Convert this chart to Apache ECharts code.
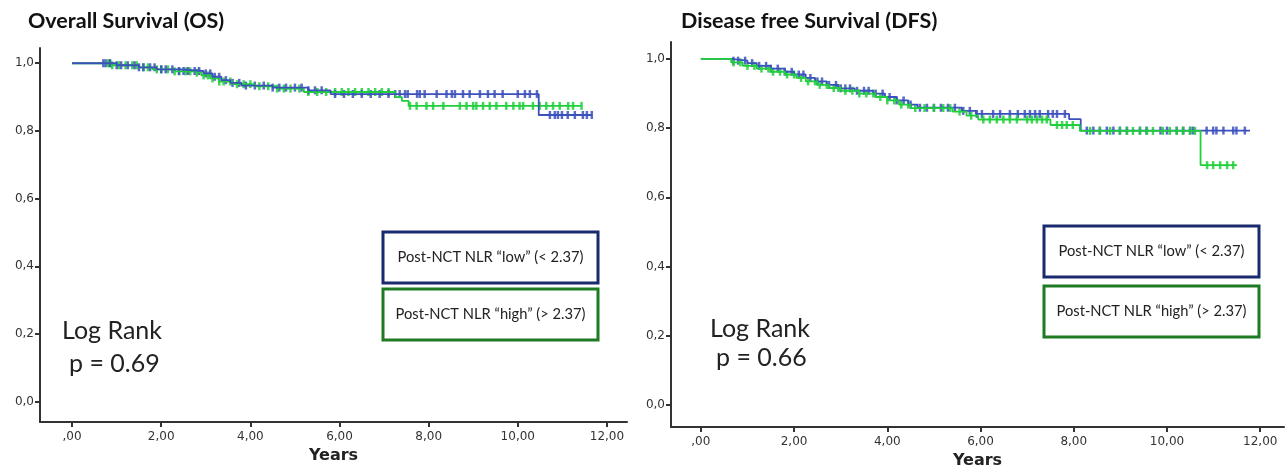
<!DOCTYPE html>
<html>
<head>
<meta charset="utf-8">
<script src="https://cdn.jsdelivr.net/npm/echarts@6/dist/echarts.min.js"></script>
<style>
  html, body { margin: 0; padding: 0; background: #fff; }
  #chart { width: 1288px; height: 465px; }
</style>
</head>
<body>
<div id="chart"></div>
<script>
// tick values + labels (SPSS style, comma decimal)
const xTicks = [0, 2, 4, 6, 8, 10, 12];
const xTickLabels = [',00', '2,00', '4,00', '6,00', '8,00', '10,00', '12,00'];
const yTicks = [0, 0.2, 0.4, 0.6, 0.8, 1.0];
const yTickLabels = ['0,0', '0,2', '0,4', '0,6', '0,8', '1,0'];

// Overall survival, step points (years, cumulative survival)
const osLowTime  = [0, 1.0, 1.5, 1.9, 2.4, 2.95, 3.15, 3.35, 3.55, 3.8, 4.5, 5.3, 5.8, 10.47, 11.66];
const osLowSurv  = [1.0, 0.994, 0.988, 0.982, 0.977, 0.97, 0.96, 0.95, 0.942, 0.934, 0.928, 0.92, 0.909, 0.847, 0.847];
const osHighTime = [0, 0.9, 1.5, 1.8, 2.3, 2.7, 2.9, 3.1, 3.3, 3.6, 4.1, 4.6, 5.2, 7.25, 7.4, 7.55, 11.43];
const osHighSurv = [1.0, 0.994, 0.988, 0.982, 0.976, 0.972, 0.964, 0.955, 0.946, 0.938, 0.932, 0.925, 0.915, 0.9, 0.889, 0.874, 0.874];

// censored times (OS)
const osLowCens = [0.7, 0.75, 0.85, 1.0, 1.1, 1.25, 1.4, 1.5, 1.6, 1.75, 1.85, 2.0, 2.1, 2.25, 2.4, 2.5, 2.6, 2.75, 2.85,
  3.0, 3.1, 3.2, 3.3, 3.45, 3.6, 3.75, 3.9, 4.1, 4.3, 4.5, 4.65, 4.8, 5.0, 5.15, 5.3, 5.45, 5.6, 5.9, 6.1, 6.3, 6.5,
  6.7, 6.9, 7.1, 7.25, 7.35, 7.47, 7.53, 7.74, 7.8, 7.91, 8.18, 8.4, 8.52, 8.59, 8.77, 8.92, 9.15, 9.33, 9.48, 9.66,
  10.0, 10.16, 10.27, 10.43, 10.72, 10.83, 10.9, 10.99, 11.12, 11.28, 11.46, 11.55, 11.66];
const osHighCens = [0.8, 0.85, 0.9, 1.05, 1.2, 1.35, 1.45, 1.6, 1.7, 1.9, 2.0, 2.15, 2.3, 2.4, 2.55, 2.65, 2.8, 2.95,
  3.05, 3.15, 3.3, 3.4, 3.55, 3.7, 3.85, 4.0, 4.2, 4.4, 4.6, 4.75, 4.9, 5.1, 5.3, 5.5, 5.7, 5.9, 6.05, 6.2, 6.35,
  6.5, 6.65, 6.8, 6.95, 7.1, 7.58, 7.73, 7.95, 8.1, 8.33, 8.7, 8.85, 9.0, 9.07, 9.22, 9.37, 9.52, 9.74, 9.9, 10.04,
  10.12, 10.34, 10.49, 10.64, 10.79, 10.94, 11.13, 11.24, 11.43];

// Disease free survival, step points
const dfsLowTime  = [0, 0.65, 1.0, 1.2, 1.5, 1.8, 2.0, 2.25, 2.45, 2.7, 2.95, 3.3, 3.7, 3.95, 4.2, 4.45, 4.65, 5.6, 5.9, 7.9, 8.15, 11.78];
const dfsLowSurv  = [1, 0.995, 0.988, 0.98, 0.972, 0.963, 0.955, 0.945, 0.935, 0.925, 0.915, 0.908, 0.9, 0.89, 0.88, 0.868, 0.859, 0.85, 0.841, 0.826, 0.793, 0.793];
const dfsHighTime = [0, 0.65, 0.9, 1.2, 1.5, 1.8, 2.05, 2.25, 2.5, 2.75, 3.0, 3.4, 3.75, 4.0, 4.25, 4.5, 5.4, 5.7, 5.95, 7.5, 8.13, 10.72, 11.5];
const dfsHighSurv = [1, 0.99, 0.98, 0.972, 0.963, 0.955, 0.945, 0.935, 0.925, 0.916, 0.908, 0.9, 0.89, 0.88, 0.868, 0.858, 0.848, 0.836, 0.825, 0.809, 0.792, 0.693, 0.693];

const dfsLowCens = [0.7, 0.8, 0.95, 1.1, 1.25, 1.4, 1.5, 1.65, 1.8, 1.95, 2.1, 2.2, 2.35, 2.5, 2.6, 2.75, 2.9, 3.0, 3.1,
  3.2, 3.35, 3.5, 3.6, 3.75, 3.9, 4.05, 4.2, 4.35, 4.5, 4.7, 4.85, 5.0, 5.15, 5.3, 5.45, 5.63, 5.77, 5.92, 6.03, 6.27,
  6.42, 6.63, 6.8, 6.95, 7.06, 7.17, 7.27, 7.45, 7.55, 7.64, 7.81, 8.28, 8.42, 8.56, 8.71, 8.85, 8.99, 9.14, 9.42,
  9.56, 9.86, 10.0, 10.21, 10.35, 10.5, 10.56, 10.85, 10.99, 11.06, 11.21, 11.42, 11.49, 11.67];
const dfsHighCens = [0.7, 0.85, 1.0, 1.15, 1.3, 1.45, 1.55, 1.7, 1.85, 2.0, 2.15, 2.3, 2.45, 2.55, 2.7, 2.85, 2.95,
  3.1, 3.25, 3.4, 3.55, 3.7, 3.85, 4.0, 4.15, 4.3, 4.45, 4.6, 4.8, 5.0, 5.2, 5.35, 5.55, 5.8, 6.06, 6.2, 6.35, 6.49,
  6.63, 6.78, 7.0, 7.1, 7.21, 7.32, 7.42, 7.64, 7.75, 7.85, 7.98, 8.35, 8.56, 8.78, 8.99, 9.14, 9.27, 9.42, 9.57,
  9.7, 9.91, 10.06, 10.21, 10.34, 10.49, 10.6, 10.86, 10.99, 11.14, 11.29, 11.42];

const BLUE = '#3b50bd';
const GREEN = '#1fd03a';

function pairs(times, surv) {
  return times.map((t, i) => [t, surv[i]]);
}
// survival value of the step curve at a censor time
function censPoints(times, surv, cens) {
  return cens.map(c => {
    let s = surv[0];
    for (let i = 0; i < times.length; i++) if (times[i] <= c) s = surv[i];
    return [c, s];
  });
}

function stepSeries(idx, times, surv, color) {
  return {
    type: 'line', step: 'end', xAxisIndex: idx, yAxisIndex: idx,
    data: pairs(times, surv), showSymbol: false, silent: true,
    lineStyle: { color: color, width: 1.8 }
  };
}
function censSeries(idx, times, surv, cens, color) {
  return {
    type: 'scatter', xAxisIndex: idx, yAxisIndex: idx, silent: true,
    data: censPoints(times, surv, cens),
    symbol: 'rect', symbolSize: [2.5, 8],
    itemStyle: { color: color, opacity: 0.85 }
  };
}

function xAxis(idx, min, max, gap) {
  return {
    type: 'value', gridIndex: idx, min: min, max: max,
    axisLine: { show: true, onZero: false, lineStyle: { color: '#333', width: 2 } },
    axisTick: { show: true, customValues: xTicks, length: 5, lineStyle: { color: '#333', width: 2 } },
    axisLabel: {
      customValues: xTicks, formatter: v => xTickLabels[xTicks.indexOf(v)],
      color: '#333', fontSize: 12, fontFamily: 'DejaVu Sans', margin: 9
    },
    splitLine: { show: false },
    name: 'Years', nameLocation: 'middle', nameGap: gap,
    nameTextStyle: { color: '#222', fontSize: 16, fontWeight: 'bold', fontFamily: 'DejaVu Sans' }
  };
}
function yAxis(idx, min, max) {
  return {
    type: 'value', gridIndex: idx, min: min, max: max,
    axisLine: { show: true, onZero: false, lineStyle: { color: '#333', width: 2 } },
    axisTick: { show: true, customValues: yTicks, length: 5, lineStyle: { color: '#333', width: 2 } },
    axisLabel: {
      customValues: yTicks, formatter: v => yTickLabels[yTicks.indexOf(Math.round(v * 10) / 10)],
      color: '#333', fontSize: 12, fontFamily: 'DejaVu Sans', margin: 6
    },
    splitLine: { show: false }
  };
}

function legendBox(x, y, w, h, color, label) {
  return {
    type: 'group', children: [
      { type: 'rect', shape: { x: x, y: y, width: w, height: h },
        style: { fill: '#fff', stroke: color, lineWidth: 3 } },
      { type: 'text', style: { x: x + w / 2, y: y + h / 2, text: label, fill: '#222',
        fontSize: 14.7, fontFamily: 'Lato', align: 'center', verticalAlign: 'middle' } }
    ]
  };
}
function plainText(x, y, text, size) {
  return { type: 'text', style: { x: x, y: y, text: text, fill: '#222', fontSize: size,
    fontFamily: 'Lato', align: 'left', verticalAlign: 'middle' } };
}

const chart = echarts.init(document.getElementById('chart'), null, { renderer: 'canvas' });
chart.setOption({
  backgroundColor: '#fff',
  animation: false,
  title: [
    { text: 'Overall Survival (OS)', left: 23, top: 5,
      textStyle: { fontSize: 21.5, fontWeight: 'bold', fontFamily: 'Lato', color: '#111' } },
    { text: 'Disease free Survival (DFS)', left: 676, top: 5,
      textStyle: { fontSize: 21.5, fontWeight: 'bold', fontFamily: 'Lato', color: '#111' } }
  ],
  grid: [
    { left: 40, top: 48, width: 587, height: 374, outerBoundsMode: 'none' },
    { left: 671, top: 42, width: 613, height: 385, outerBoundsMode: 'none' }
  ],
  xAxis: [xAxis(0, -0.72, 12.45, 26), xAxis(1, -0.64, 12.51, 23)],
  yAxis: [yAxis(0, -0.06, 1.045), yAxis(1, -0.064, 1.049)],
  series: [
    stepSeries(0, osHighTime, osHighSurv, GREEN),
    stepSeries(0, osLowTime, osLowSurv, BLUE),
    censSeries(0, osHighTime, osHighSurv, osHighCens, GREEN),
    censSeries(0, osLowTime, osLowSurv, osLowCens, BLUE),
    stepSeries(1, dfsLowTime, dfsLowSurv, BLUE),
    stepSeries(1, dfsHighTime, dfsHighSurv, GREEN),
    censSeries(1, dfsLowTime, dfsLowSurv, dfsLowCens, BLUE),
    censSeries(1, dfsHighTime, dfsHighSurv, dfsHighCens, GREEN)
  ],
  graphic: [
    legendBox(383, 232, 215, 51, '#1b2a6e', 'Post-NCT NLR \u201clow\u201d (< 2.37)'),
    legendBox(383, 289, 215, 51, '#1f7a24', 'Post-NCT NLR \u201chigh\u201d (> 2.37)'),
    legendBox(1044, 226, 215, 51, '#1b2a6e', 'Post-NCT NLR \u201clow\u201d (< 2.37)'),
    legendBox(1044, 286, 215, 51, '#1f7a24', 'Post-NCT NLR \u201chigh\u201d (> 2.37)'),
    plainText(62, 331, 'Log Rank', 25),
    plainText(69, 364, 'p = 0.69', 25),
    plainText(710, 329, 'Log Rank', 25),
    plainText(716, 358, 'p = 0.66', 25)
  ]
});
</script>
</body>
</html>
